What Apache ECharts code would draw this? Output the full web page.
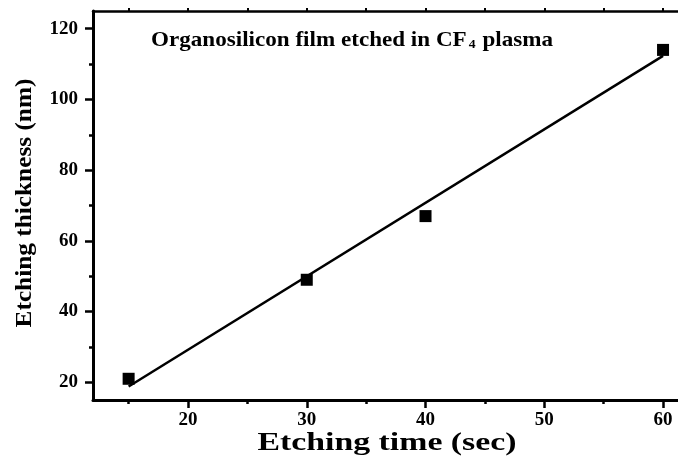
<!DOCTYPE html>
<html>
<head>
<meta charset="utf-8">
<script src="https://cdn.jsdelivr.net/npm/echarts@6/dist/echarts.min.js"></script>
<style>
  html, body { margin: 0; padding: 0; background: #fff; }
  #chart { width: 678px; height: 466px; }
</style>
</head>
<body>
<div id="chart"></div>
<script>
// Measured etch depth vs. etching time
const timeSec = [15, 30, 40, 60];
const thicknessNm = [21, 49, 67, 114];

// Linear fit drawn through the measurements
const fitTime = [15, 60];
const fitThickness = [18.8, 112.3];

// Tick positions
const xMajorTicks = [20, 30, 40, 50, 60];
const xMinorTicks = [15, 25, 35, 45, 55];
const xTopTicks = [15, 20, 25, 30, 35, 40, 45, 50, 55, 60];
const yMajorTicks = [20, 40, 60, 80, 100, 120];
const yMinorTicks = [30, 50, 70, 90, 110];

// Texts
const xTitle = 'Etching time (sec)';
const yTitle = 'Etching thickness (nm)';
const noteMain = 'Organosilicon film etched in CF';
const noteSub = '4';
const noteTail = ' plasma';

const FONT = '"Liberation Serif", "Times New Roman", serif';
// The frame reaches the right edge of the canvas
const X_MIN = 12, X_MAX = 61.26, Y_MIN = 15, Y_MAX = 125;

const chart = echarts.init(document.getElementById('chart'), null, { renderer: 'canvas' });

const labelStyle = { color: '#000', fontFamily: FONT, fontWeight: 'bold', fontSize: 19 };

chart.setOption({
  animation: false,
  grid: { left: 93, right: 0, top: 11, bottom: 66 },
  xAxis: [
    {
      type: 'value', min: X_MIN, max: X_MAX, position: 'bottom', offset: 0,
      axisLine: { onZero: false, lineStyle: { color: '#000', width: 3 } },
      axisTick: { customValues: xMajorTicks, length: 8, lineStyle: { color: '#000', width: 2.5 } },
      axisLabel: Object.assign({ customValues: xMajorTicks, margin: 11 }, labelStyle),
      splitLine: { show: false }
    },
    {
      type: 'value', min: X_MIN, max: X_MAX, position: 'bottom', offset: 0,
      axisLine: { show: false, onZero: false },
      axisTick: { customValues: xMinorTicks, length: 4, lineStyle: { color: '#000', width: 2.5 } },
      axisLabel: { show: false },
      splitLine: { show: false }
    },
    {
      type: 'value', min: X_MIN, max: X_MAX, position: 'top', offset: 0,
      axisLine: { onZero: false, lineStyle: { color: '#000', width: 2.5 } },
      axisTick: { customValues: xTopTicks, length: 3, lineStyle: { color: '#000', width: 2 } },
      axisLabel: { show: false },
      splitLine: { show: false }
    }
  ],
  yAxis: [
    {
      type: 'value', min: Y_MIN, max: Y_MAX, position: 'left', offset: 0,
      axisLine: { show: true, onZero: false, lineStyle: { color: '#000', width: 3 } },
      axisTick: { show: true, customValues: yMajorTicks, length: 8, lineStyle: { color: '#000', width: 2.5 } },
      axisLabel: Object.assign({ customValues: yMajorTicks, margin: 15 }, labelStyle),
      splitLine: { show: false }
    },
    {
      type: 'value', min: Y_MIN, max: Y_MAX, position: 'left', offset: 0,
      axisLine: { show: false, onZero: false },
      axisTick: { show: true, customValues: yMinorTicks, length: 4, lineStyle: { color: '#000', width: 2.5 } },
      axisLabel: { show: false },
      splitLine: { show: false }
    }
  ],
  series: [
    {
      type: 'line',
      xAxisIndex: 0, yAxisIndex: 0,
      data: fitTime.map((t, i) => [t, fitThickness[i]]),
      symbol: 'none',
      lineStyle: { color: '#000', width: 2.5 },
      z: 3
    },
    {
      type: 'scatter',
      xAxisIndex: 0, yAxisIndex: 0,
      data: timeSec.map((t, i) => [t, thicknessNm[i]]),
      symbol: 'rect',
      symbolSize: 12,
      itemStyle: { color: '#000', opacity: 1 },
      z: 4
    }
  ],
  graphic: [
    {
      type: 'text',
      x: 387, y: 443,
      scaleX: 1.3,
      style: {
        text: xTitle,
        font: 'bold 26px ' + FONT,
        fill: '#000',
        align: 'center',
        verticalAlign: 'middle'
      }
    },
    {
      type: 'text',
      x: 25, y: 203,
      rotation: Math.PI / 2,
      scaleX: 1.1,
      style: {
        text: yTitle,
        font: 'bold 23px ' + FONT,
        fill: '#000',
        align: 'center',
        verticalAlign: 'middle'
      }
    },
    {
      type: 'text',
      x: 151, y: 39,
      scaleX: 1.05,
      style: {
        text: '{b|' + noteMain + '}{s|' + noteSub + '}{b|' + noteTail + '}',
        fill: '#000',
        align: 'left',
        verticalAlign: 'middle',
        rich: {
          b: { font: 'bold 22px ' + FONT, fill: '#000', verticalAlign: 'bottom', lineHeight: 24 },
          s: { font: 'bold 13px ' + FONT, fill: '#000', verticalAlign: 'bottom', lineHeight: 9, padding: [0, 1, 0, 2] }
        }
      }
    }
  ]
});
</script>
</body>
</html>
